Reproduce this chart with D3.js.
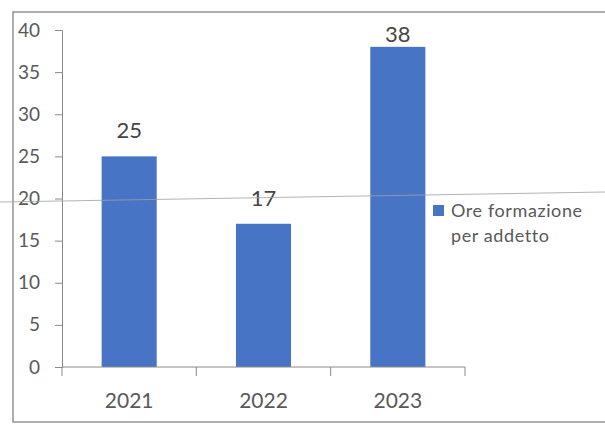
<!DOCTYPE html>
<html>
<head>
<meta charset="utf-8">
<script src="https://cdn.jsdelivr.net/npm/d3@7"></script>
<style>
  html, body { margin: 0; padding: 0; background: #ffffff; }
  svg { display: block; }
  text { font-family: "Lato", "Open Sans", sans-serif; }
</style>
</head>
<body>
<svg id="chart" width="605" height="425"></svg>
<script>
// Training hours per employee, by year
const years = ["2021", "2022", "2023"];
const hours = [25, 17, 38];
const yTicks = [0, 5, 10, 15, 20, 25, 30, 35, 40];
const seriesName = ["Ore formazione", "per addetto"];

const W = 605, H = 425;
const plot = { left: 62, right: 465, top: 30, bottom: 367 };
const frame = { x: 13, y: 12 };
const barColor = "#4874c6";
const axisColor = "#8a8a8a";
const labelColor = "#595959";

const svg = d3.select("#chart");

// outer chart frame (open on the right)
svg.append("rect")
  .attr("x", frame.x).attr("y", frame.y)
  .attr("width", W).attr("height", 410)
  .attr("fill", "#ffffff")
  .attr("stroke", "#7a7a7a").attr("stroke-width", 1.2);

const x = d3.scaleBand().domain(years).range([plot.left, plot.right]).padding(0);
const y = d3.scaleLinear().domain([0, 40]).range([plot.bottom, plot.top]);

// bars
const barW = x.bandwidth() * 0.41;
svg.append("g").selectAll("rect")
  .data(years.map((yr, i) => ({ yr, v: hours[i] })))
  .join("rect")
  .attr("x", d => x(d.yr) + (x.bandwidth() - barW) / 2)
  .attr("y", d => y(d.v))
  .attr("width", barW)
  .attr("height", d => y(0) - y(d.v))
  .attr("fill", barColor);

// value labels, kept inside the frame
svg.append("g").selectAll("text")
  .data(years.map((yr, i) => ({ yr, v: hours[i] })))
  .join("text")
  .attr("x", d => x(d.yr) + x.bandwidth() / 2)
  .attr("y", d => Math.max(y(d.v) - 18, frame.y + 30))
  .attr("text-anchor", "middle")
  .attr("font-size", 22)
  .attr("fill", "#454545")
  .text(d => d.v);

// y axis
const yAxis = svg.append("g")
  .attr("transform", `translate(${plot.left},0)`)
  .call(d3.axisLeft(y).tickValues(yTicks).tickSize(7).tickPadding(15));
yAxis.select(".domain").attr("stroke", axisColor);
yAxis.selectAll(".tick line").attr("stroke", axisColor);
yAxis.selectAll(".tick text")
  .attr("font-size", 19).attr("fill", labelColor)
  .attr("font-family", "Lato, sans-serif");

// x axis: line with tick marks on category boundaries
const xg = svg.append("g");
xg.append("line")
  .attr("x1", plot.left).attr("x2", plot.right)
  .attr("y1", y(0)).attr("y2", y(0))
  .attr("stroke", axisColor);
const bounds = years.map(d => x(d)).concat([x(years[years.length - 1]) + x.bandwidth()]);
xg.selectAll("line.tk").data(bounds).join("line")
  .attr("class", "tk")
  .attr("x1", d => d).attr("x2", d => d)
  .attr("y1", y(0)).attr("y2", y(0) + 9)
  .attr("stroke", axisColor);
xg.selectAll("text").data(years).join("text")
  .attr("x", d => x(d) + x.bandwidth() / 2)
  .attr("y", 408)
  .attr("text-anchor", "middle")
  .attr("font-size", 21)
  .attr("fill", labelColor)
  .text(d => d);

// legend
const lg = svg.append("g");
lg.append("rect")
  .attr("x", 433).attr("y", 205).attr("width", 11).attr("height", 11)
  .attr("fill", barColor);
lg.selectAll("text").data(seriesName).join("text")
  .attr("x", 451)
  .attr("y", (d, i) => 217 + i * 25)
  .attr("font-size", 18)
  .attr("letter-spacing", 0.6)
  .attr("fill", labelColor)
  .text(d => d);

// thin rule across the sheet
svg.append("line")
  .attr("x1", 0).attr("y1", 202).attr("x2", W).attr("y2", 192)
  .attr("stroke", "#a0a0a0").attr("stroke-width", 0.8);
</script>
</body>
</html>
